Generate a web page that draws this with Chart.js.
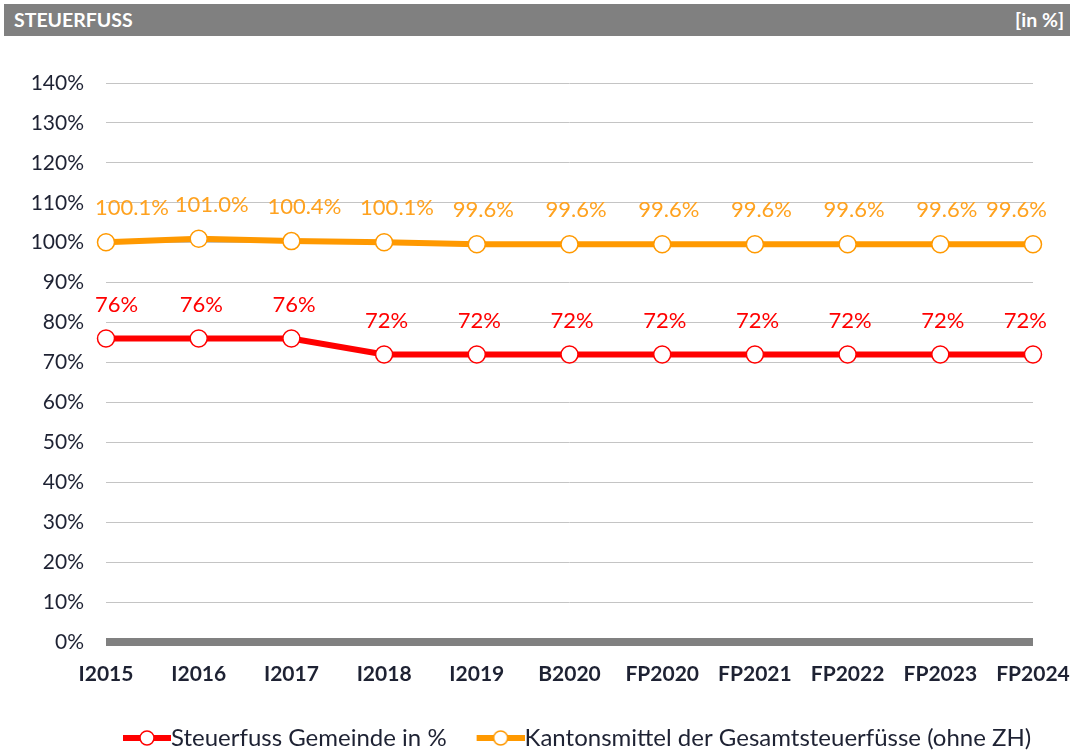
<!DOCTYPE html>
<html>
<head>
<meta charset="utf-8">
<script src="https://cdn.jsdelivr.net/npm/chart.js@4.4.1/dist/chart.umd.min.js"></script>
<style>
    html, body { margin: 0; padding: 0; background: #fff; }
    body { width: 1074px; height: 751px; position: relative; overflow: hidden; font-family: Lato, "Open Sans", sans-serif; }
    #header {
        position: absolute; left: 4px; top: 4px; width: 1066px; height: 32px;
        background: #808080; color: #fff; font-weight: bold; font-size: 19.5px;
        line-height: 32px; box-sizing: border-box; padding: 0 6px 0 10px;
    }
    #header .unit { float: right; }
    #wrap { position: absolute; left: 0; top: 0; width: 1074px; height: 751px; }
</style>
</head>
<body>
<div id="wrap"><canvas id="steuerChart"></canvas></div>
<div id="header"><span>STEUERFUSS</span><span class="unit">[in %]</span></div>
<script>
const labels = ["I2015", "I2016", "I2017", "I2018", "I2019", "B2020", "FP2020", "FP2021", "FP2022", "FP2023", "FP2024"];
const gemeinde = [76, 76, 76, 72, 72, 72, 72, 72, 72, 72, 72];
const kanton = [100.1, 101.0, 100.4, 100.1, 99.6, 99.6, 99.6, 99.6, 99.6, 99.6, 99.6];
const yTicks = [0, 10, 20, 30, 40, 50, 60, 70, 80, 90, 100, 110, 120, 130, 140];

const RED = "#ff0000";
const ORANGE = "#ff9900";
const TEXT = "#1e2233";

// legend symbol: line with open circle, offset so the text sits right next to it
function legendSymbol(color) {
    const c = document.createElement("canvas");
    c.width = 60;
    c.height = 18;
    const ctx = c.getContext("2d");
    ctx.strokeStyle = color;
    ctx.lineWidth = 6;
    ctx.beginPath();
    ctx.moveTo(12, 9);
    ctx.lineTo(60, 9);
    ctx.stroke();
    ctx.fillStyle = "#fff";
    ctx.lineWidth = 1.5;
    ctx.beginPath();
    ctx.arc(36, 9, 7, 0, Math.PI * 2);
    ctx.fill();
    ctx.stroke();
    return c;
}

// value labels above the points, kept inside the plot like excel does
const valueLabels = {
    id: "valueLabels",
    afterDatasetsDraw(chart) {
        const ctx = chart.ctx;
        const area = chart.chartArea;
        ctx.save();
        ctx.font = "22px Lato, sans-serif";
        ctx.textAlign = "left";
        ctx.textBaseline = "middle";
        chart.data.datasets.forEach((ds, i) => {
            const meta = chart.getDatasetMeta(i);
            ctx.fillStyle = ds.labelColor;
            meta.data.forEach((pt, j) => {
                const txt = ds.data[j].toFixed(ds.decimals) + "%";
                const w = ctx.measureText(txt).width;
                let x = pt.x - ds.labelShift;
                x = Math.max(x, area.left - 11);
                x = Math.min(x, area.right + 14 - w);
                ctx.fillText(txt, x, pt.y - 34);
            });
        });
        ctx.restore();
    },
};

// legend starts further right than the plot's left edge
const legendShift = {
    id: "legendShift",
    afterLayout(chart) {
        chart.legend.left = 93;
        chart.legend.right = 1074;
    },
};

const config = {
    type: "line",
    data: {
        labels: labels,
        datasets: [
            {
                label: "Steuerfuss Gemeinde in %",
                data: gemeinde,
                borderColor: RED,
                backgroundColor: "#fff",
                borderWidth: 6,
                pointRadius: 8.5,
                pointBorderWidth: 1.5,
                pointBackgroundColor: "#fff",
                pointBorderColor: RED,
                labelColor: RED,
                decimals: 0,
                labelShift: 19,
                symbol: legendSymbol(RED),
            },
            {
                label: "Kantonsmittel der Gesamtsteuerfüsse (ohne ZH)",
                data: kanton,
                borderColor: ORANGE,
                backgroundColor: "#fff",
                borderWidth: 6,
                pointRadius: 8.5,
                pointBorderWidth: 1.5,
                pointBackgroundColor: "#fff",
                pointBorderColor: ORANGE,
                labelColor: "#ffa21f",
                decimals: 1,
                labelShift: 24,
                symbol: legendSymbol(ORANGE),
            },
        ],
    },
    options: {
        responsive: true,
        maintainAspectRatio: false,
        animation: false,
        layout: {
            padding: { top: 83, right: 41, left: 20, bottom: 0 },
        },
        plugins: {
            tooltip: { enabled: false },
            legend: {
                position: "bottom",
                align: "start",
                maxHeight: 55,
                labels: {
                    usePointStyle: true,
                    pointStyleWidth: 36,
                    padding: 30,
                    color: TEXT,
                    font: { family: "Lato", size: 24 },
                    generateLabels: (chart) => {
                        return chart.data.datasets.map((ds, i) => ({
                            text: ds.label,
                            pointStyle: ds.symbol,
                            fontColor: TEXT,
                            datasetIndex: i,
                            hidden: false,
                        }));
                    },
                },
            },
        },
        scales: {
            x: {
                offset: false,
                border: { display: false },
                grid: { display: false, drawTicks: false },
                afterFit: (axis) => {
                    axis.height = 54;
                    axis.paddingLeft = 0;
                    axis.paddingRight = 0;
                },
                ticks: {
                    padding: 20,
                    color: TEXT,
                    font: { family: "Lato", size: 21, weight: "bold" },
                    maxRotation: 0,
                    autoSkip: false,
                },
            },
            y: {
                min: 0,
                max: 140,
                border: { display: false },
                afterBuildTicks: (axis) => {
                    axis.ticks = yTicks.map((v) => ({ value: v }));
                },
                afterFit: (axis) => {
                    axis.width = 86;
                },
                grid: {
                    drawTicks: false,
                    color: (c) => (c.tick.value === 0 ? "#808080" : "#c4c4c4"),
                    lineWidth: (c) => (c.tick.value === 0 ? 8 : 1),
                },
                ticks: {
                    padding: 22,
                    color: TEXT,
                    font: { family: "Lato", size: 21 },
                    callback: (v) => v + "%",
                },
            },
        },
    },
    plugins: [valueLabels, legendShift],
};

new Chart(document.getElementById("steuerChart"), config);
</script>
</body>
</html>
